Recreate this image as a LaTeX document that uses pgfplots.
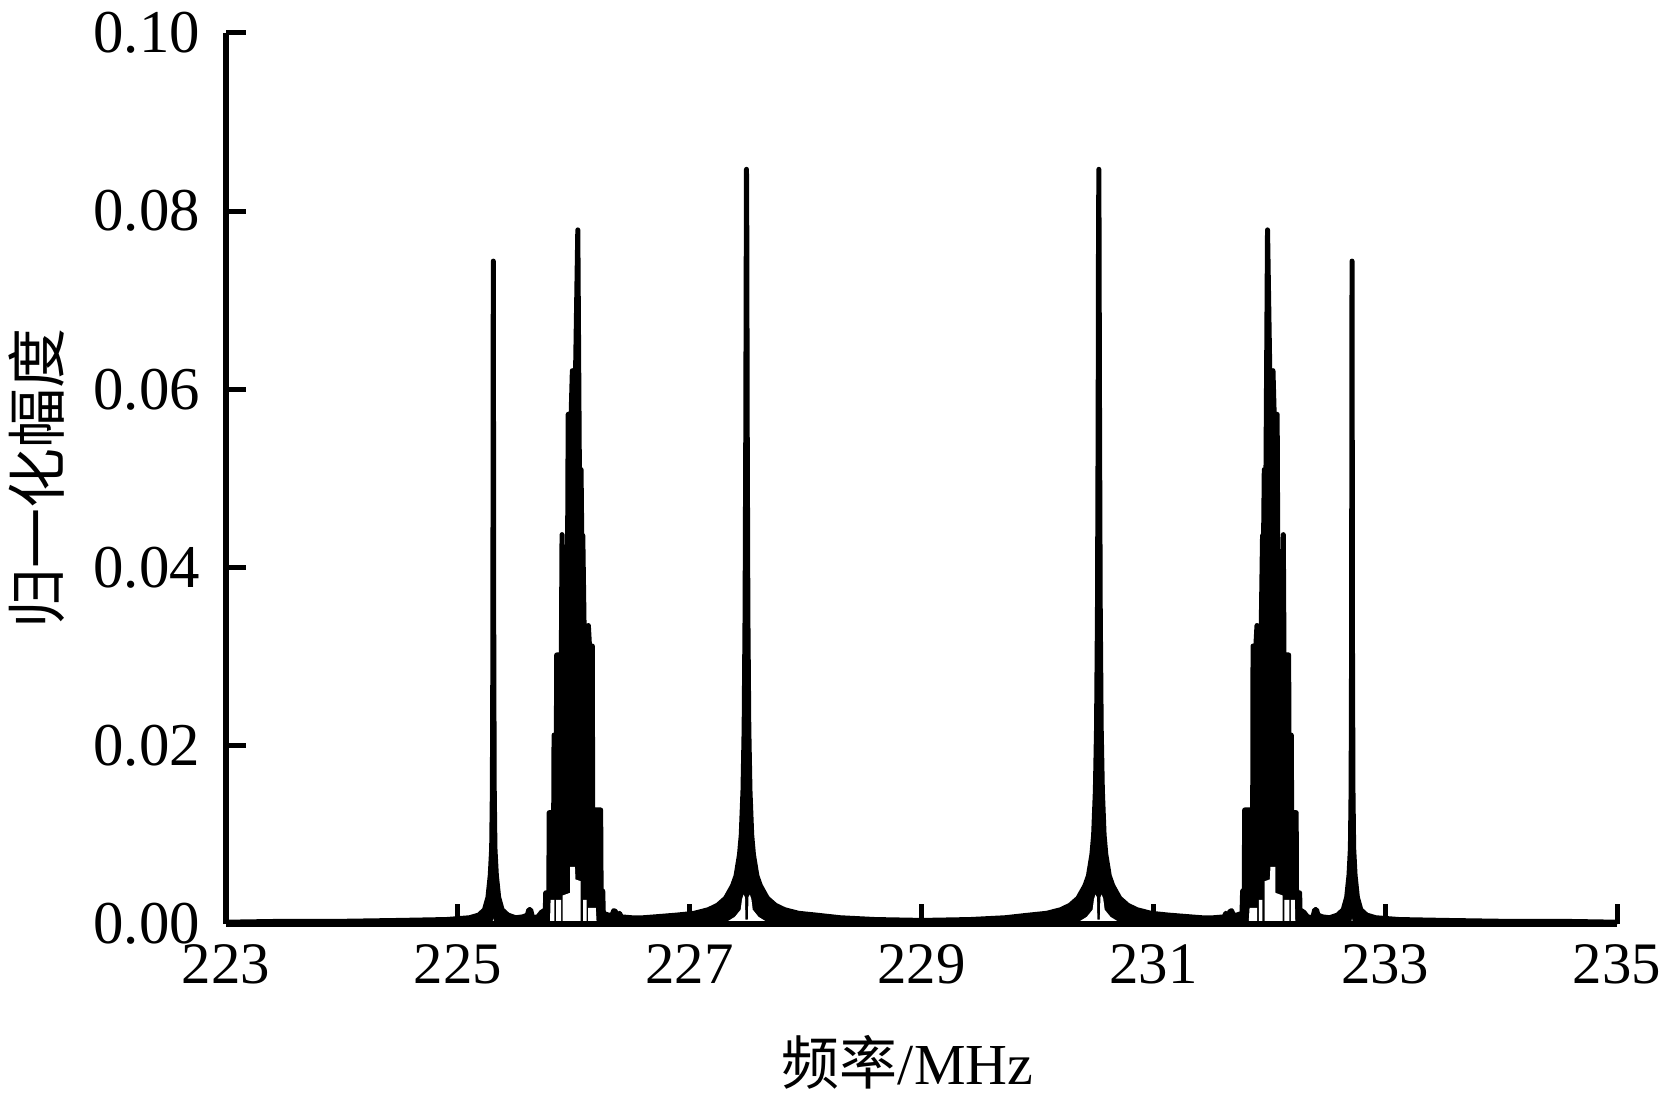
\documentclass[border=0pt]{standalone}
\usepackage{fontspec}
\setmainfont{Liberation Serif}
\newfontfamily\cjk{Noto Sans CJK SC}
\usepackage{pgfplots}
\pgfplotsset{compat=1.18}
\begin{document}
\begin{tikzpicture}
\begin{axis}[
  name=ax, at={(0,0)}, anchor=south west,
  scale only axis, width=347.75pt, height=222.75pt,
  xmin=223, xmax=235, ymin=0, ymax=0.1,
  axis x line*=bottom, axis y line*=left,
  axis line style={line width=1.5pt, black},
  xtick={223,225,227,229,231,233,235},
  ytick={0,0.02,0.04,0.06,0.08,0.1},
  scaled y ticks=false, scaled x ticks=false,
  tick align=inside, major tick length=5pt,
  tick style={line width=1.25pt, black},
  xticklabel style={font=\fontsize{14.7}{17}\selectfont, yshift=-1.5pt, /pgf/number format/assume math mode=true},
  yticklabel style={font=\fontsize{15.2}{18}\selectfont, xshift=-3pt, /pgf/number format/fixed, /pgf/number format/fixed zerofill, /pgf/number format/precision=2, /pgf/number format/assume math mode=true},
  xlabel={{\cjk 频率}/MHz},
  ylabel={{\cjk 归一化幅度}},
  xlabel style={at={(axis description cs:0.49,-0.155)}, anchor=center, font=\fontsize{14.5}{17}\selectfont},
  ylabel style={at={(axis description cs:-0.1359,0.5)}, anchor=center, font=\fontsize{15}{18}\selectfont},
  axis on top,
]
\addplot[black, line width=1.25pt, line join=round, fill=black] table {
x y
223.00 0.0002
223.50 0.0003
224.00 0.0003
224.50 0.0004
224.90 0.0005
225.10 0.0007
225.18 0.0010
225.23 0.0016
225.26 0.0030
225.28 0.0055
225.292 0.0085
225.298 0.0150
225.302 0.0300
225.306 0.0744
225.310 0.0300
225.314 0.0150
225.320 0.0085
225.332 0.0055
225.352 0.0030
225.382 0.0016
225.432 0.0010
225.50 0.0007
225.56 0.0008
225.60 0.0010
225.612 0.0016
225.628 0.0016
225.645 0.0007
225.69 0.0008
225.72 0.0013
225.755 0.0016
225.758 0.0035
225.785 0.0035
225.788 0.0125
225.827 0.0125
225.830 0.0212
225.850 0.0212
225.853 0.0302
225.893 0.0302
225.899 0.0437
225.910 0.0365
225.945 0.0365
225.952 0.0572
225.975 0.0560
225.988 0.0621
226.012 0.0590
226.035 0.0779
226.050 0.0480
226.063 0.0510
226.070 0.0420
226.078 0.0436
226.095 0.0280
226.126 0.0335
226.145 0.0290
226.160 0.0312
226.163 0.0128
226.232 0.0128
226.236 0.0037
226.250 0.0037
226.255 0.0012
226.300 0.0010
226.330 0.0010
226.345 0.0015
226.360 0.0014
226.375 0.0009
226.395 0.0012
226.410 0.0008
226.50 0.0007
226.60 0.0007
226.70 0.0008
226.89 0.0010
227.04 0.0012
227.16 0.0016
227.24 0.0021
227.31 0.0029
227.37 0.0043
227.40 0.0054
227.43 0.0078
227.445 0.0100
227.46 0.0150
227.47 0.0220
227.478 0.0350
227.484 0.0550
227.490 0.0847
227.493 0.0766
227.496 0.0570
227.502 0.0350
227.510 0.0220
227.520 0.0150
227.535 0.0100
227.550 0.0078
227.580 0.0054
227.610 0.0043
227.670 0.0029
227.740 0.0021
227.820 0.0016
227.940 0.0012
228.090 0.0010
228.30 0.0007
228.60 0.0005
229.01 0.0004
229.42 0.0005
229.72 0.0007
229.93 0.0010
230.08 0.0012
230.20 0.0016
230.28 0.0021
230.35 0.0029
230.41 0.0043
230.44 0.0054
230.47 0.0078
230.485 0.0100
230.50 0.0150
230.51 0.0220
230.518 0.0350
230.524 0.0570
230.527 0.0766
230.530 0.0847
230.536 0.0550
230.542 0.0350
230.55 0.0220
230.56 0.0150
230.575 0.0100
230.59 0.0078
230.62 0.0054
230.65 0.0043
230.71 0.0029
230.78 0.0021
230.86 0.0016
230.98 0.0012
231.13 0.0010
231.32 0.0008
231.42 0.0007
231.52 0.0007
231.61 0.0008
231.625 0.0012
231.645 0.0009
231.66 0.0014
231.675 0.0015
231.69 0.0010
231.72 0.0010
231.765 0.0012
231.77 0.0037
231.784 0.0037
231.788 0.0128
231.857 0.0128
231.86 0.0312
231.875 0.0290
231.894 0.0335
231.925 0.0280
231.942 0.0436
231.95 0.0420
231.957 0.0510
231.97 0.0480
231.985 0.0779
232.008 0.0590
232.032 0.0621
232.045 0.0560
232.068 0.0572
232.075 0.0365
232.11 0.0365
232.121 0.0437
232.127 0.0302
232.167 0.0302
232.17 0.0212
232.19 0.0212
232.193 0.0125
232.232 0.0125
232.235 0.0035
232.262 0.0035
232.265 0.0016
232.30 0.0013
232.33 0.0008
232.375 0.0007
232.392 0.0016
232.408 0.0016
232.42 0.0010
232.46 0.0008
232.52 0.0007
232.588 0.0010
232.638 0.0016
232.668 0.0030
232.688 0.0055
232.70 0.0085
232.706 0.0150
232.71 0.0300
232.714 0.0744
232.718 0.0300
232.722 0.0150
232.728 0.0085
232.74 0.0055
232.76 0.0030
232.79 0.0016
232.84 0.0010
232.92 0.0007
233.12 0.0005
233.52 0.0004
234.02 0.0003
234.52 0.0003
235.00 0.0002
} \closedcycle;
% white gaps at the foot of the peaks
\addplot[draw=none, fill=white] table {
x y
225.296 0
225.306 0.0006
225.316 0
} \closedcycle;
\addplot[draw=none, fill=white] table {
x y
227.29 0
227.39 0.0008
227.44 0.0016
227.452 0.0028
227.465 0.0033
227.477 0.0030
227.480 0.0012
227.481 0.0005
227.503 0.0005
227.504 0.0012
227.507 0.0030
227.519 0.0033
227.532 0.0028
227.544 0.0016
227.594 0.0008
227.694 0
} \closedcycle;
\addplot[draw=none, fill=white] table {
x y
230.326 0
230.426 0.0008
230.476 0.0016
230.488 0.0028
230.501 0.0033
230.513 0.0030
230.516 0.0012
230.517 0.0005
230.539 0.0005
230.540 0.0012
230.543 0.0030
230.555 0.0033
230.568 0.0028
230.58 0.0016
230.63 0.0008
230.73 0
} \closedcycle;
\addplot[draw=none, fill=white] table {
x y
232.704 0
232.714 0.0006
232.724 0
} \closedcycle;
% left cluster gaps
\addplot[draw=none, fill=white] table {
x y
225.795 0
225.800 0.0027
225.833 0.0027
225.833 0
} \closedcycle;
\addplot[draw=none, fill=white] table {
x y
225.847 0
225.847 0.0027
225.890 0.0027
225.890 0
} \closedcycle;
\addplot[draw=none, fill=white] table {
x y
225.905 0
225.905 0.0032
225.968 0.0035
225.968 0.0064
226.010 0.0064
226.015 0.0050
226.060 0.0048
226.060 0
} \closedcycle;
\addplot[draw=none, fill=white] table {
x y
226.080 0
226.080 0.0027
226.110 0.0027
226.110 0
} \closedcycle;
\addplot[draw=none, fill=white] table {
x y
226.125 0
226.125 0.0018
226.190 0.0018
226.198 0
} \closedcycle;
% right cluster gaps
\addplot[draw=none, fill=white] table {
x y
231.822 0
231.830 0.0018
231.895 0.0018
231.895 0
} \closedcycle;
\addplot[draw=none, fill=white] table {
x y
231.910 0
231.910 0.0027
231.940 0.0027
231.940 0
} \closedcycle;
\addplot[draw=none, fill=white] table {
x y
231.960 0
231.960 0.0048
232.005 0.0050
232.010 0.0064
232.052 0.0064
232.052 0.0035
232.115 0.0032
232.115 0
} \closedcycle;
\addplot[draw=none, fill=white] table {
x y
232.130 0
232.130 0.0027
232.173 0.0027
232.173 0
} \closedcycle;
\addplot[draw=none, fill=white] table {
x y
232.187 0
232.187 0.0027
232.220 0.0027
232.225 0
} \closedcycle;
\end{axis}
\pgfresetboundingbox
\path ([xshift=-56.5pt,yshift=-44pt]ax.south west) rectangle ([xshift=12pt,yshift=8.25pt]ax.north east);
\end{tikzpicture}
\end{document}
